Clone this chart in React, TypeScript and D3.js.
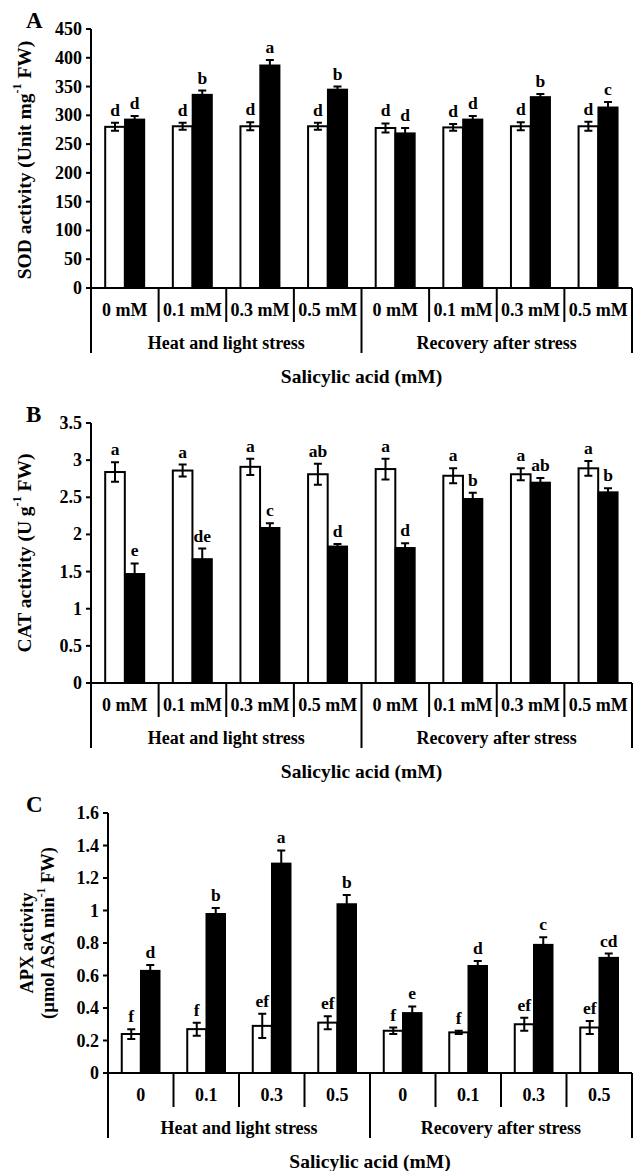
import React from 'react';
import * as d3 from 'd3';

const groups = ['Heat and light stress', 'Recovery after stress'];
const dosesMM = ['0 mM', '0.1 mM', '0.3 mM', '0.5 mM'];
const dosesPlain = ['0', '0.1', '0.3', '0.5'];

// SOD (panel A)
const sodOpen = [280, 281, 281, 281, 278, 279, 281, 281];
const sodOpenErr = [7, 6, 7, 6, 8, 6, 7, 8];
const sodFilled = [293, 336, 387, 345, 269, 293, 332, 314];
const sodFilledErr = [6, 7, 9, 5, 9, 6, 5, 9];
const sodOpenLetters = ['d', 'd', 'd', 'd', 'd', 'd', 'd', 'd'];
const sodFilledLetters = ['d', 'b', 'a', 'b', 'd', 'd', 'b', 'c'];

// CAT (panel B)
const catOpen = [2.84, 2.86, 2.91, 2.81, 2.88, 2.79, 2.81, 2.89];
const catOpenErr = [0.13, 0.08, 0.11, 0.14, 0.14, 0.1, 0.08, 0.1];
const catFilled = [1.47, 1.67, 2.09, 1.84, 1.82, 2.48, 2.7, 2.57];
const catFilledErr = [0.14, 0.14, 0.06, 0.03, 0.06, 0.08, 0.06, 0.05];
const catOpenLetters = ['a', 'a', 'a', 'ab', 'a', 'a', 'a', 'a'];
const catFilledLetters = ['e', 'de', 'c', 'd', 'd', 'b', 'ab', 'b'];

// APX (panel C)
const apxOpen = [0.24, 0.27, 0.29, 0.31, 0.26, 0.25, 0.3, 0.28];
const apxOpenErr = [0.03, 0.04, 0.075, 0.04, 0.02, 0.01, 0.04, 0.04];
const apxFilled = [0.63, 0.98, 1.29, 1.04, 0.37, 0.66, 0.79, 0.71];
const apxFilledErr = [0.035, 0.035, 0.08, 0.055, 0.04, 0.03, 0.045, 0.025];
const apxOpenLetters = ['f', 'f', 'ef', 'ef', 'f', 'f', 'ef', 'ef'];
const apxFilledLetters = ['d', 'b', 'a', 'b', 'e', 'd', 'c', 'cd'];

const FONT = '"Liberation Serif", "Times New Roman", serif';

type PanelProps = {
  letter: string;
  left: number;
  right: number;
  top: number;
  zero: number;
  max: number;
  step: number;
  doses: string[];
  open: number[];
  openErr: number[];
  filled: number[];
  filledErr: number[];
  openLetters: string[];
  filledLetters: string[];
  title: React.ReactNode;
};

const Panel = (p: PanelProps) => {
  const cats = groups.flatMap((g, gi) => p.doses.map((d, di) => `${gi}-${di}`));
  const x = d3.scaleBand().domain(cats).range([p.left, p.right]);
  const y = d3.scaleLinear().domain([0, p.max]).range([p.zero, p.top]);
  const ticks = d3.range(0, p.max + p.step / 2, p.step);
  const bw = x.bandwidth() * 0.29;
  const errPath = (cx: number, v: number, e: number) => {
    const t = y(v + e), b = y(v - e);
    return `M${cx - 4},${t}H${cx + 4}M${cx},${t}V${b}M${cx - 4},${b}H${cx + 4}`;
  };
  const groupEdges = [p.left, (p.left + p.right) / 2, p.right];

  return (
    <g fontFamily={FONT} fontWeight="bold" fill="#000">
      <text x={26} y={p.top - 1} fontSize={23}>{p.letter}</text>
      {p.title}
      {ticks.map((t) => (
        <g key={t}>
          <line x1={p.left - 5} x2={p.left} y1={y(t)} y2={y(t)} stroke="#000" strokeWidth={2} />
          <text x={p.left - 9} y={y(t)} textAnchor="end" dominantBaseline="central" fontSize={18}>
            {d3.format('~g')(+t.toFixed(2))}
          </text>
        </g>
      ))}
      {cats.map((c, i) => {
        const x0 = x(c)! + x.bandwidth() / 2 - bw;
        const xo = x0 + bw / 2;
        const xf = x0 + bw * 1.5;
        return (
          <g key={c}>
            <rect x={x0} y={y(p.open[i])} width={bw} height={p.zero - y(p.open[i])}
              fill="#fff" stroke="#000" strokeWidth={2} />
            <rect x={x0 + bw} y={y(p.filled[i])} width={bw} height={p.zero - y(p.filled[i])}
              fill="#000" stroke="#000" strokeWidth={1.5} />
            <path d={errPath(xo, p.open[i], p.openErr[i])} stroke="#000" strokeWidth={2} fill="none" />
            <path d={errPath(xf, p.filled[i], p.filledErr[i])} stroke="#000" strokeWidth={2} fill="none" />
            <text x={xo} y={y(p.open[i] + p.openErr[i]) - 7} textAnchor="middle" fontSize={17.5}>
              {p.openLetters[i]}
            </text>
            <text x={xf} y={y(p.filled[i] + p.filledErr[i]) - 7} textAnchor="middle" fontSize={17.5}>
              {p.filledLetters[i]}
            </text>
            <text x={x(c)! + x.bandwidth() / 2} y={p.zero + 22} textAnchor="middle"
              dominantBaseline="central" fontSize={18}>
              {p.doses[i % 4]}
            </text>
            {i > 0 && i !== 4 && (
              <line x1={x(c)} x2={x(c)} y1={p.zero} y2={p.zero + 34} stroke="#000" strokeWidth={2} />
            )}
          </g>
        );
      })}
      <line x1={p.left} x2={p.left} y1={p.top} y2={p.zero} stroke="#000" strokeWidth={2} />
      <line x1={p.left} x2={p.right} y1={p.zero} y2={p.zero} stroke="#000" strokeWidth={2} />
      {groupEdges.map((gx, i) => (
        <line key={i} x1={gx} x2={gx} y1={p.zero} y2={p.zero + 65} stroke="#000" strokeWidth={2} />
      ))}
      {groups.map((g, i) => (
        <text key={g} x={(groupEdges[i] + groupEdges[i + 1]) / 2} y={p.zero + 55}
          textAnchor="middle" dominantBaseline="central" fontSize={18}>
          {g}
        </text>
      ))}
      <text x={(p.left + p.right) / 2} y={p.zero + 88} textAnchor="middle"
        dominantBaseline="central" fontSize={19.5}>
        Salicylic acid (mM)
      </text>
    </g>
  );
};

const yTitle = (cx: number, cy: number, size: number, before: string, sup: string, after: string) => (
  <text transform={`translate(${cx},${cy}) rotate(-90)`} textAnchor="middle"
    dominantBaseline="central" fontSize={size}>
    {before}
    <tspan dy={-7} fontSize={size * 0.62}>{sup}</tspan>
    <tspan dy={7}>{after}</tspan>
  </text>
);

export default function App() {
  return (
    <svg width={638} height={1171} style={{ position: 'absolute', left: 0, top: 0, background: '#fff' }}>
      <Panel letter="A" left={91} right={632} top={29} zero={288} max={450} step={50}
        doses={dosesMM} open={sodOpen} openErr={sodOpenErr} filled={sodFilled} filledErr={sodFilledErr}
        openLetters={sodOpenLetters} filledLetters={sodFilledLetters}
        title={yTitle(24, 160, 19.5, 'SOD activity (Unit mg', '-1', ' FW)')} />
      <Panel letter="B" left={91} right={632} top={423} zero={683} max={3.5} step={0.5}
        doses={dosesMM} open={catOpen} openErr={catOpenErr} filled={catFilled} filledErr={catFilledErr}
        openLetters={catOpenLetters} filledLetters={catFilledLetters}
        title={yTitle(24, 553, 19.5, 'CAT activity (U g', '-1', ' FW)')} />
      <Panel letter="C" left={108} right={632} top={813} zero={1073} max={1.6} step={0.2}
        doses={dosesPlain} open={apxOpen} openErr={apxOpenErr} filled={apxFilled} filledErr={apxFilledErr}
        openLetters={apxOpenLetters} filledLetters={apxFilledLetters}
        title={
          <g>
            <text transform="translate(27,943) rotate(-90)" textAnchor="middle"
              dominantBaseline="central" fontSize={18.5}>APX activity</text>
            {yTitle(48, 933, 18.5, '(µmol ASA min', '-1', ' FW)')}
          </g>
        } />
    </svg>
  );
}
